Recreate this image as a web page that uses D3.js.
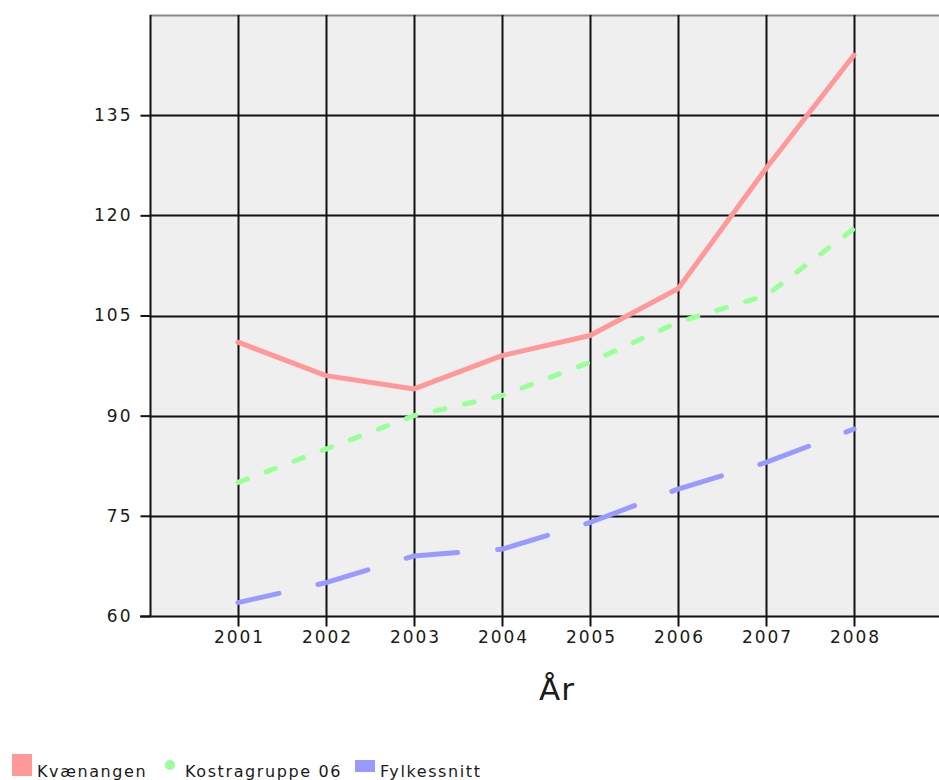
<!DOCTYPE html>
<html>
<head>
<meta charset="utf-8">
<script src="https://cdn.jsdelivr.net/npm/d3@7"></script>
<style>
  body { margin: 0; background: #fff; }
  svg { display: block; }
  text { font-family: "DejaVu Sans", Verdana, sans-serif; fill: #1a1a1a; }
</style>
</head>
<body>
<svg id="chart" width="939" height="780"></svg>
<script>
const years = [2001, 2002, 2003, 2004, 2005, 2006, 2007, 2008];
const kvaenangen = [101, 96, 94, 99, 102, 109, 127, 144];
const kostragruppe = [80, 85, 90, 93, 98, 104, 108, 118];
const fylkessnitt = [62, 65, 69, 70, 74, 79, 83, 88];
const yTicks = [60, 75, 90, 105, 120, 135];
const seriesNames = ["Kvænangen", "Kostragruppe 06", "Fylkessnitt"];
const seriesColors = ["#ff9999", "#99ff99", "#9999ff"];
const xTitle = "År";

(function () {
const svg = d3.select("#chart");
const pLeft = 150, pTop = 15, pBottom = 616, pRight = 942;

const x = d3.scaleLinear().domain([2000, 2009]).range([pLeft, pRight]);
const y = d3.scaleLinear().domain([60, 150]).range([pBottom, pTop]);

// plot background
svg.append("rect").attr("x", pLeft).attr("y", pTop)
  .attr("width", pRight - pLeft).attr("height", pBottom - pTop)
  .attr("fill", "#efefef");

// top border
svg.append("line").attr("x1", pLeft).attr("x2", pRight).attr("y1", pTop + 0.5).attr("y2", pTop + 0.5)
  .attr("stroke", "#888").attr("stroke-width", 2);

// horizontal grid
svg.append("g").selectAll("line").data(yTicks.slice(1)).join("line")
  .attr("x1", pLeft).attr("x2", pRight)
  .attr("y1", d => Math.round(y(d)) + 0.5).attr("y2", d => Math.round(y(d)) + 0.5)
  .attr("stroke", "#111").attr("stroke-width", 2);

// vertical grid
svg.append("g").selectAll("line").data(years).join("line")
  .attr("x1", d => Math.round(x(d)) + 0.5).attr("x2", d => Math.round(x(d)) + 0.5)
  .attr("y1", pTop).attr("y2", pBottom)
  .attr("stroke", "#111").attr("stroke-width", 2);

const tickFont = (sel) => sel.style("font-family", "DejaVu Sans, Verdana, sans-serif")
  .style("font-size", "17px").style("letter-spacing", "2px").attr("fill", "#1a1a1a");

// y axis
const yAxis = d3.axisLeft(y).tickValues(yTicks).tickSize(10).tickPadding(8).tickFormat(d3.format("d"));
const gy = svg.append("g").attr("transform", `translate(${pLeft + 0.5},0)`).call(yAxis);
gy.select(".domain").attr("stroke", "#111").attr("stroke-width", 2).attr("d", `M0,${pTop}V${pBottom}`);
gy.selectAll(".tick line").attr("stroke", "#111").attr("stroke-width", 2);
gy.selectAll(".tick text").call(tickFont);

// x axis
const xAxis = d3.axisBottom(x).tickValues(years).tickSize(10).tickPadding(4).tickFormat(d3.format("d"));
const gx = svg.append("g").attr("transform", `translate(0,${pBottom + 0.5})`).call(xAxis);
gx.select(".domain").attr("stroke", "#111").attr("stroke-width", 2).attr("d", `M${pLeft - 10},0H${pRight}`);
gx.selectAll(".tick line").attr("stroke", "#111").attr("stroke-width", 2);
gx.selectAll(".tick text").call(tickFont).attr("dx", "1px");

// x title
svg.append("text").attr("x", 557).attr("y", 700).attr("text-anchor", "middle")
  .style("font-size", "31px").style("letter-spacing", "1px").text(xTitle);

// lines
const line = d3.line().x((d, i) => x(years[i])).y(d => y(d));
const seriesData = [kvaenangen, kostragruppe, fylkessnitt];
const dashes = [null, "10,20", "52,40"];
const offsets = [0, 0, 10];
seriesData.forEach((s, i) => {
  svg.append("path").datum(s).attr("d", line)
    .attr("fill", "none").attr("stroke", seriesColors[i]).attr("stroke-width", 5)
    .attr("stroke-linecap", "round").attr("stroke-linejoin", "round")
    .attr("stroke-dasharray", dashes[i]).attr("stroke-dashoffset", offsets[i]);
});

// legend
const lg = svg.append("g");
const legFont = (sel) => sel.style("font-size", "16px").style("letter-spacing", "1.6px");
lg.append("rect").attr("x", 12).attr("y", 754).attr("width", 20).attr("height", 22).attr("fill", seriesColors[0]);
lg.append("text").attr("x", 37).attr("y", 777).call(legFont).text(seriesNames[0]);
lg.append("circle").attr("cx", 170).attr("cy", 765).attr("r", 5).attr("fill", seriesColors[1]);
lg.append("text").attr("x", 185).attr("y", 777).call(legFont).text(seriesNames[1]);
lg.append("rect").attr("x", 355).attr("y", 760).attr("width", 20).attr("height", 12).attr("fill", seriesColors[2]);
lg.append("text").attr("x", 380).attr("y", 777).call(legFont).text(seriesNames[2]);
})();
</script>
</body>
</html>
